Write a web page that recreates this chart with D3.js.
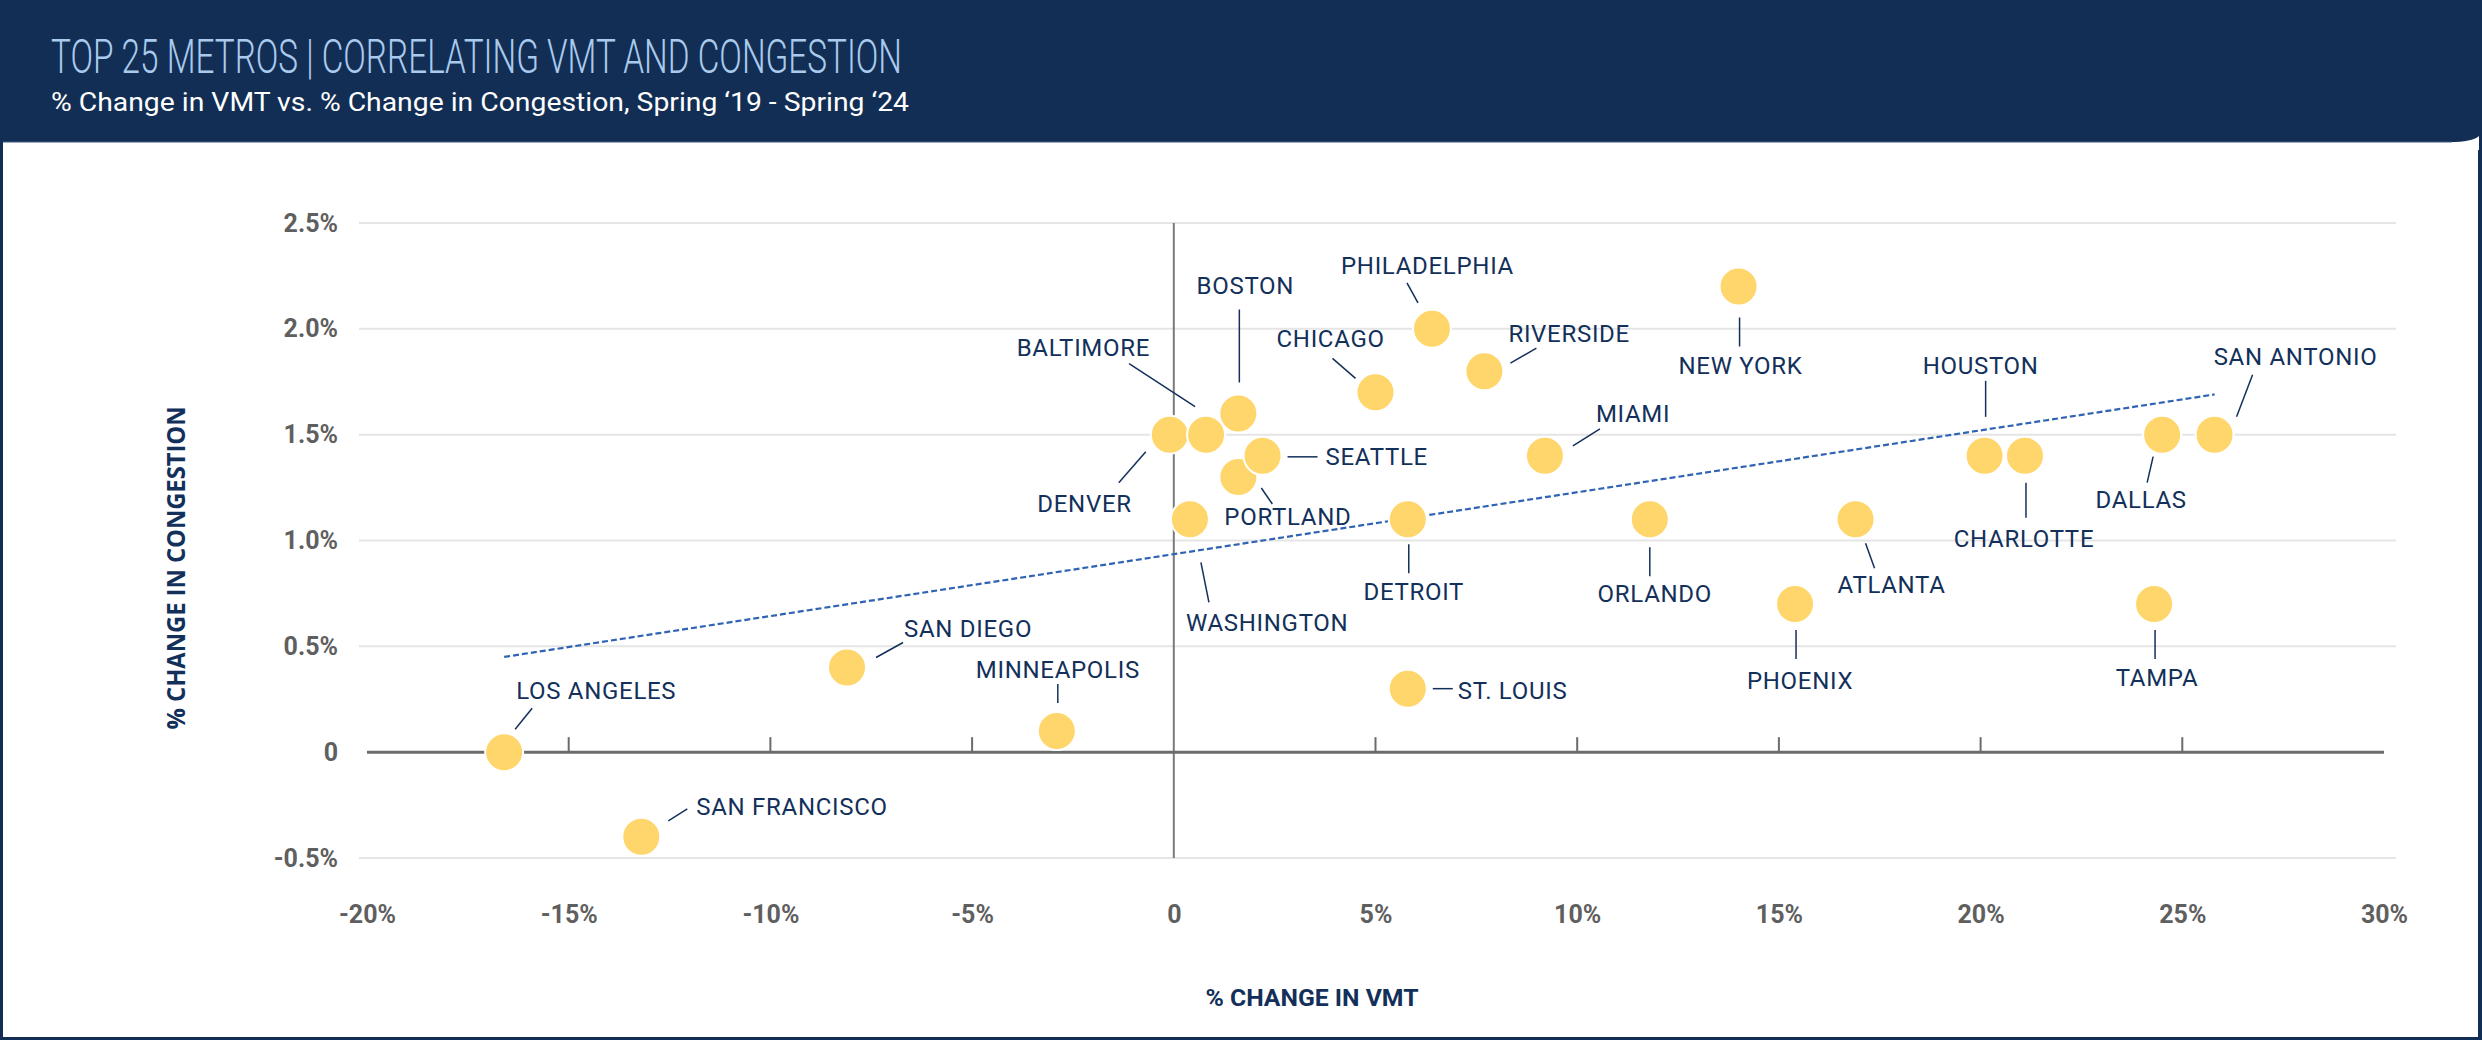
<!DOCTYPE html>
<html>
<head>
<meta charset="utf-8">
<script src="https://cdn.jsdelivr.net/npm/d3@7"></script>
<style>
  html, body { margin: 0; padding: 0; background: #ffffff; }
  svg { display: block; }
</style>
</head>
<body>
<svg id="chart" width="2482" height="1040"></svg>
<script>
// ---------------- DATA ----------------
const metros = ["LOS ANGELES","SAN FRANCISCO","SAN DIEGO","MINNEAPOLIS","DENVER","BALTIMORE","BOSTON","WASHINGTON","PORTLAND","SEATTLE","CHICAGO","PHILADELPHIA","RIVERSIDE","DETROIT","ST. LOUIS","MIAMI","NEW YORK","ORLANDO","PHOENIX","ATLANTA","HOUSTON","CHARLOTTE","DALLAS","SAN ANTONIO","TAMPA"];
const vmtChange = [-16.6,-13.2,-8.1,-2.9,-0.1,0.8,1.6,0.4,1.6,2.2,5.0,6.4,7.7,5.8,5.8,9.2,14.0,11.8,15.4,16.9,20.1,21.1,24.5,25.8,24.3];
const congestionChange = [0.0,-0.4,0.4,0.1,1.5,1.5,1.6,1.1,1.3,1.4,1.7,2.0,1.8,1.1,0.3,1.4,2.2,1.1,0.7,1.1,1.4,1.4,1.5,1.5,0.7];
const trendVmt = [-16.6, 25.8];
const trendCongestion = [0.45, 1.69];
const xTicks = [-20,-15,-10,-5,0,5,10,15,20,25,30];
const xTickLabels = ["-20%","-15%","-10%","-5%","0","5%","10%","15%","20%","25%","30%"];
const yTicks = [-0.5,0,0.5,1.0,1.5,2.0,2.5];
const yTickLabels = ["-0.5%","0","0.5%","1.0%","1.5%","2.0%","2.5%"];
const titleText = "TOP 25 METROS | CORRELATING VMT AND CONGESTION";
const subtitleText = "% Change in VMT vs. % Change in Congestion, Spring \u201819 - Spring \u201824";
const xAxisTitle = "% CHANGE IN VMT";
const yAxisTitle = "% CHANGE IN CONGESTION";

// ---------------- LABEL LAYOUT (pixel offsets from each point) ----------------
// [dx, dy, anchor, lx1, ly1, lx2, ly2]
const labelLayout = {
  "LOS ANGELES":   [12,-53,"start", 28,-44, 11,-23],
  "SAN FRANCISCO": [55,-22,"start", 46,-28, 27,-16],
  "SAN DIEGO":     [57,-31,"start", 56,-25, 29,-10],
  "MINNEAPOLIS":   [1,-53,"middle", 1,-47, 1,-28],
  "DENVER":        [-38,77,"end", -24,17, -51,48],
  "BALTIMORE":     [-56,-79,"end", -77,-71, -11,-28],
  "BOSTON":        [7,-120,"middle", 1,-104, 1,-31],
  "WASHINGTON":    [-4,112,"start", 11,43, 19,83],
  "PORTLAND":      [-14,48,"start", 23,11, 34,27],
  "SEATTLE":       [63,9,"start", 25,1, 55,1],
  "CHICAGO":       [-99,-45,"start", -43,-34, -20,-14],
  "PHILADELPHIA":  [-91,-55,"start", -25,-46, -14,-26],
  "RIVERSIDE":     [24,-29,"start", 52,-23, 26,-8],
  "DETROIT":       [6,81,"middle", 1,25, 1,54],
  "ST. LOUIS":     [50,10,"start", 25,0, 45,0],
  "MIAMI":         [51,-34,"start", 55,-27, 28,-10],
  "NEW YORK":      [2,87,"middle", 1,31, 1,60],
  "ORLANDO":       [5,83,"middle", 0,28, 0,57],
  "PHOENIX":       [5,85,"middle", 1,26, 1,55],
  "ATLANTA":       [-18,74,"start", 10,24, 19,49],
  "HOUSTON":       [-4,-82,"middle", 1,-75, 1,-39],
  "CHARLOTTE":     [-1,91,"middle", 1,27, 1,62],
  "DALLAS":        [-21,73,"middle", -9,22, -15,48],
  "SAN ANTONIO":   [81,-70,"middle", 38,-60, 22,-18],
  "TAMPA":         [3,82,"middle", 1,26, 1,55]
};

// ---------------- DRAW ----------------
const W = 2482, H = 1040;
const navy = "#122e54";
const labelColor = "#13305a";
const svg = d3.select("#chart");

// frame
svg.append("rect").attr("x",0).attr("y",0).attr("width",W).attr("height",H).attr("fill",navy);
svg.append("rect").attr("x",3).attr("y",142).attr("width",W-7).attr("height",H-142-3).attr("fill","#ffffff");
svg.append("path")
  .attr("d",`M2450,142 Q2472,142 2479,136 L2479,150 L2450,150 Z`)
  .attr("fill","#ffffff");
svg.append("line").attr("x1",3).attr("x2",2452).attr("y1",142).attr("y2",142)
  .attr("stroke","#3c5a80").attr("stroke-width",1);

svg.append("text")
  .attr("x",51).attr("y",73)
  .attr("font-family","Roboto, 'Liberation Sans', sans-serif")
  .attr("font-weight",300)
  .attr("font-size",49)
  .attr("fill","#a9caed")
  .attr("textLength",851).attr("lengthAdjust","spacingAndGlyphs")
  .text(titleText);

svg.append("text")
  .attr("x",51).attr("y",111)
  .attr("font-family","Roboto, 'Liberation Sans', sans-serif")
  .attr("font-weight",400)
  .attr("font-size",26)
  .attr("fill","#ffffff")
  .attr("textLength",858).attr("lengthAdjust","spacingAndGlyphs")
  .text(subtitleText);

// scales
const x = d3.scaleLinear().domain([-20,30]).range([367,2384]);
const y = d3.scaleLinear().domain([-0.5,2.5]).range([858,223]);

const g = svg.append("g");

// gridlines
g.selectAll("line.grid").data(yTicks.filter(v => v !== 0)).enter().append("line")
  .attr("class","grid")
  .attr("x1",359).attr("x2",2396)
  .attr("y1",d => y(d)).attr("y2",d => y(d))
  .attr("stroke","#e5e5e5").attr("stroke-width",2);

// y axis (vertical line at x=0)
g.append("line")
  .attr("x1",x(0)).attr("x2",x(0))
  .attr("y1",y(2.5)).attr("y2",y(-0.5))
  .attr("stroke","#7a7a7a").attr("stroke-width",2);

// zero line with upward ticks
g.append("line")
  .attr("x1",x(-20)).attr("x2",x(30))
  .attr("y1",y(0)).attr("y2",y(0))
  .attr("stroke","#6b6b6b").attr("stroke-width",3);
g.selectAll("line.xtick").data(xTicks.filter(v => v !== 0 && v !== -20 && v !== 30)).enter().append("line")
  .attr("class","xtick")
  .attr("x1",d => x(d)).attr("x2",d => x(d))
  .attr("y1",y(0)).attr("y2",y(0)-15)
  .attr("stroke","#6b6b6b").attr("stroke-width",2);

// tick labels via d3 axes
const xAxis = d3.axisBottom(x).tickValues(xTicks)
  .tickFormat((d,i) => xTickLabels[i]).tickSize(0).tickPadding(47);
const xg = svg.append("g").attr("transform",`translate(0,${y(-0.5)})`).call(xAxis);
xg.select(".domain").remove();
xg.selectAll("text")
  .attr("font-family","Roboto, sans-serif").attr("font-weight",700)
  .attr("font-size",25).attr("fill","#5f5f5f");

const yAxis = d3.axisLeft(y).tickValues(yTicks)
  .tickFormat((d,i) => yTickLabels[i]).tickSize(0).tickPadding(10);
const yg = svg.append("g").attr("transform",`translate(348,0)`).call(yAxis);
yg.select(".domain").remove();
yg.selectAll("text")
  .attr("font-family","Roboto, sans-serif").attr("font-weight",700)
  .attr("font-size",25).attr("fill","#5f5f5f");

// axis titles
svg.append("text")
  .attr("x",1312).attr("y",1006)
  .attr("text-anchor","middle")
  .attr("font-family","Roboto, sans-serif").attr("font-weight",700)
  .attr("font-size",24).attr("fill",labelColor)
  .attr("textLength",213).attr("lengthAdjust","spacingAndGlyphs")
  .text(xAxisTitle);

svg.append("text")
  .attr("transform","translate(185,568) rotate(-90)")
  .attr("text-anchor","middle")
  .attr("font-family","'Open Sans', Roboto, sans-serif").attr("font-weight",700)
  .attr("font-size",25).attr("fill",labelColor)
  .attr("textLength",323).attr("lengthAdjust","spacingAndGlyphs")
  .text(yAxisTitle);

// trend line
g.append("line")
  .attr("x1",x(trendVmt[0])).attr("y1",y(trendCongestion[0]))
  .attr("x2",x(trendVmt[1])).attr("y2",y(trendCongestion[1]))
  .attr("stroke","#2f63b4").attr("stroke-width",2.2)
  .attr("stroke-dasharray","6,3");

// points data
const pts = metros.map((m,i) => ({name:m, vx:vmtChange[i], vy:congestionChange[i]}));

// leader lines
g.selectAll("line.leader").data(pts).enter().append("line")
  .attr("class","leader")
  .attr("x1",d => x(d.vx) + labelLayout[d.name][3])
  .attr("y1",d => y(d.vy) + labelLayout[d.name][4])
  .attr("x2",d => x(d.vx) + labelLayout[d.name][5])
  .attr("y2",d => y(d.vy) + labelLayout[d.name][6])
  .attr("stroke",labelColor).attr("stroke-width",1.5);

// circles
g.selectAll("circle.pt").data(pts).enter().append("circle")
  .attr("class","pt")
  .attr("cx",d => x(d.vx)).attr("cy",d => y(d.vy))
  .attr("r",19)
  .attr("fill","#ffd66b")
  .attr("stroke","#ffffff").attr("stroke-width",2);

// labels
g.selectAll("text.lbl").data(pts).enter().append("text")
  .attr("class","lbl")
  .attr("x",d => x(d.vx) + labelLayout[d.name][0])
  .attr("y",d => y(d.vy) + labelLayout[d.name][1])
  .attr("text-anchor",d => labelLayout[d.name][2])
  .attr("font-family","Roboto, sans-serif").attr("font-weight",400)
  .attr("font-size",24).attr("letter-spacing",0.7).attr("fill",labelColor)
  .text(d => d.name);
</script>
</body>
</html>
